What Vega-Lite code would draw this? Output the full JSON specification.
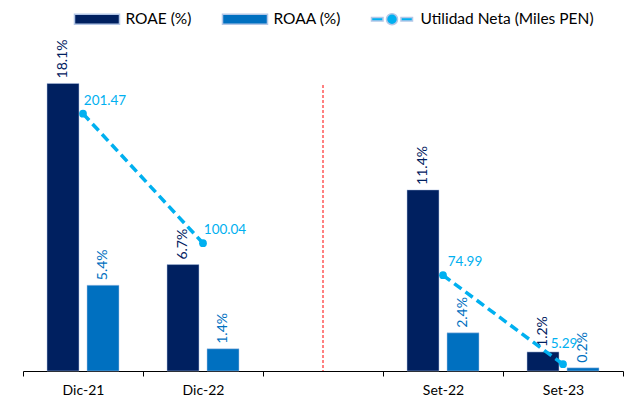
{
  "$schema": "https://vega.github.io/schema/vega-lite/v6.json",
  "width": 600,
  "height": 340,
  "padding": {"left": 22, "right": 11, "top": 8, "bottom": 5},
  "background": "white",
  "config": {
    "view": {"stroke": null},
    "font": "Lato",
    "text": {"font": "Lato"},
    "legend": {"labelFont": "Lato"},
    "axis": {"labelFont": "Lato"}
  },
  "datasets": {
    "barras": [
      {"periodo": "Dic-21", "serie": "ROAE (%)", "valor": 0.181},
      {"periodo": "Dic-21", "serie": "ROAA (%)", "valor": 0.054},
      {"periodo": "Dic-22", "serie": "ROAE (%)", "valor": 0.067},
      {"periodo": "Dic-22", "serie": "ROAA (%)", "valor": 0.014},
      {"periodo": "Set-22", "serie": "ROAE (%)", "valor": 0.114},
      {"periodo": "Set-22", "serie": "ROAA (%)", "valor": 0.024},
      {"periodo": "Set-23", "serie": "ROAE (%)", "valor": 0.012},
      {"periodo": "Set-23", "serie": "ROAA (%)", "valor": 0.002}
    ],
    "utilidad": [
      {"periodo": "Dic-21", "tramo": "Dic", "utilidad": 201.47},
      {"periodo": "Dic-22", "tramo": "Dic", "utilidad": 100.04},
      {"periodo": "Set-22", "tramo": "Set", "utilidad": 74.99},
      {"periodo": "Set-23", "tramo": "Set", "utilidad": 5.29}
    ],
    "separador": [{"periodo": "gap"}]
  },
  "encoding": {
    "x": {
      "field": "periodo",
      "type": "nominal",
      "scale": {"domain": ["Dic-21", "Dic-22", "gap", "Set-22", "Set-23"], "paddingInner": 0, "paddingOuter": 0},
      "axis": {
        "title": null,
        "labelExpr": "datum.value == 'gap' ? '' : datum.value",
        "tickBand": "extent",
        "domainColor": "#000000",
        "domainWidth": 1,
        "tickColor": "#000000",
        "tickSize": 5,
        "labelFontSize": 14,
        "labelColor": "#000000",
        "labelPadding": 7,
        "labelAngle": 0,
        "grid": false
      }
    }
  },
  "layer": [
    {
      "layer": [
        {
          "data": {"name": "barras"},
          "mark": {"type": "bar", "stroke": "#B4C7E7", "strokeWidth": 0.5},
          "encoding": {
            "xOffset": {"field": "serie", "type": "nominal", "scale": {"domain": ["ROAE (%)", "ROAA (%)"], "paddingInner": 0.2, "paddingOuter": 0.6}},
            "y": {"field": "valor", "type": "quantitative", "scale": {"domain": [0, 0.214]}, "axis": null},
            "color": {
              "field": "serie",
              "type": "nominal",
              "scale": {"domain": ["ROAE (%)", "ROAA (%)", "Utilidad Neta (Miles PEN)"], "range": ["#002060", "#0070C0", "#00B0F0"]},
              "legend": {
                "orient": "none",
                "legendX": 63,
                "legendY": -23,
                "direction": "horizontal",
                "title": null,
                "labelFontSize": 15.5,
                "labelLimit": 400,
                "labelColor": "#000000",
                "symbolSize": 400,
                "symbolType": {"expr": "datum.value === 'Utilidad Neta (Miles PEN)' ? 'M-2.05,-0.18H-0.9V0.18H-2.05Z M0.9,-0.18H2.05V0.18H0.9Z M-0.55,0A0.55,0.55 0 1,0 0.55,0A0.55,0.55 0 1,0 -0.55,0Z' : 'M-2.25,-0.5H2.25V0.5H-2.25Z'"},
                "columnPadding": 27,
                "labelOffset": 17.5,
                "encode": {
                  "symbols": {
                    "update": {
                      "fill": {"signal": "scale('color', datum.value)"},
                      "fillOpacity": {"value": 1},
                      "stroke": {"value": "transparent"},
                      "strokeWidth": {"value": 0}
                    }
                  }
                }
              }
            }
          }
        },
        {
          "data": {"name": "barras"},
          "mark": {"type": "text", "angle": -90, "align": "left", "baseline": "middle", "dx": 5, "fontSize": 14},
          "encoding": {
            "xOffset": {"field": "serie", "type": "nominal", "scale": {"domain": ["ROAE (%)", "ROAA (%)"], "paddingInner": 0.2, "paddingOuter": 0.6}},
            "y": {"field": "valor", "type": "quantitative", "scale": {"domain": [0, 0.214]}, "axis": null},
            "text": {"field": "valor", "type": "quantitative", "format": ".1%"},
            "color": {"field": "serie", "type": "nominal"}
          }
        },
        {
          "data": {"name": "separador"},
          "mark": {"type": "rule", "color": "#FF0000", "strokeDash": [3, 2], "strokeWidth": 1},
          "encoding": {
            "y": {"datum": 0.18, "type": "quantitative", "scale": {"domain": [0, 0.214]}, "axis": null},
            "y2": {"datum": 0}
          }
        }
      ]
    },
    {
      "data": {"name": "utilidad"},
      "encoding": {
        "y": {"field": "utilidad", "type": "quantitative", "scale": {"domain": [0, 266.2]}, "axis": null}
      },
      "layer": [
        {
          "mark": {"type": "line", "color": "#00B0F0", "strokeWidth": 3.5, "strokeDash": [9, 5]},
          "encoding": {"detail": {"field": "tramo", "type": "nominal"}}
        },
        {
          "mark": {"type": "point", "filled": true, "size": 60, "color": "#00B0F0", "opacity": 1}
        },
        {
          "transform": [{"filter": "datum.utilidad > 10"}],
          "mark": {"type": "text", "align": "center", "baseline": "middle", "dx": 22, "dy": -13, "fontSize": 13.5, "color": "#00B0F0"},
          "encoding": {"text": {"field": "utilidad", "type": "quantitative", "format": ".2f"}}
        },
        {
          "transform": [{"filter": "datum.utilidad <= 10"}],
          "mark": {"type": "text", "align": "center", "baseline": "middle", "dx": 1, "dy": -20, "fontSize": 13.5, "color": "#00B0F0"},
          "encoding": {"text": {"field": "utilidad", "type": "quantitative", "format": ".2f"}}
        }
      ]
    }
  ],
  "resolve": {"scale": {"y": "independent"}}
}
